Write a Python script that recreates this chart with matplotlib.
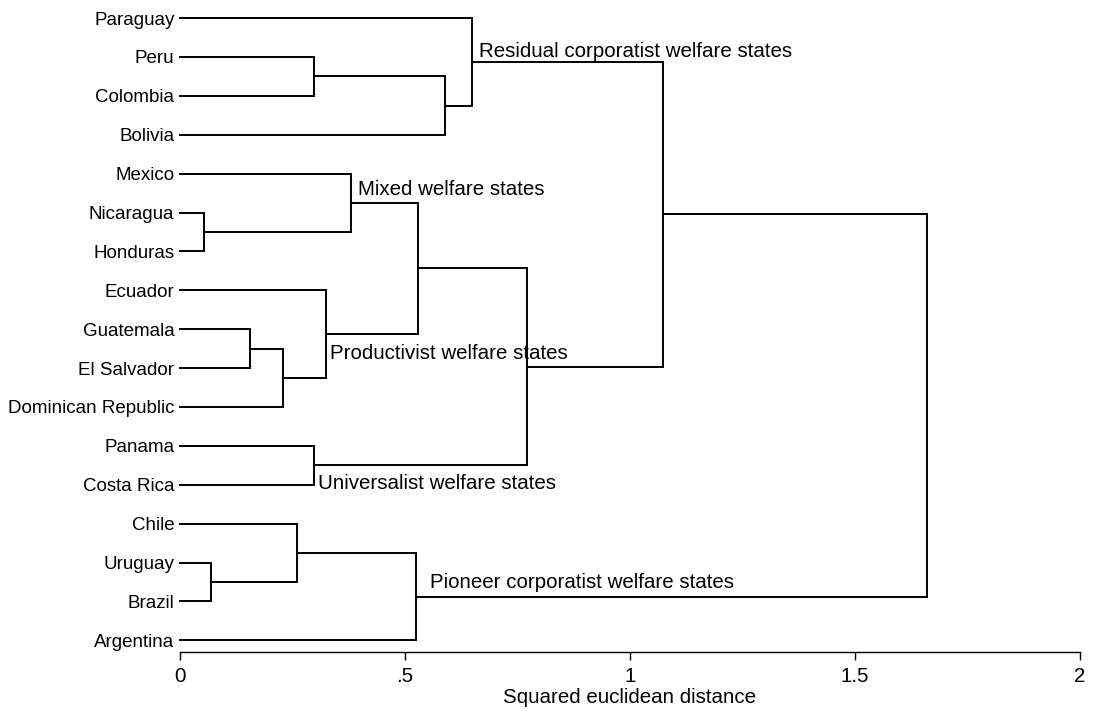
import matplotlib
matplotlib.use("Agg")
import matplotlib.pyplot as plt

# Countries in dendrogram order (top to bottom)
countries = ["Paraguay", "Peru", "Colombia", "Bolivia", "Mexico", "Nicaragua",
             "Honduras", "Ecuador", "Guatemala", "El Salvador", "Dominican Republic",
             "Panama", "Costa Rica", "Chile", "Uruguay", "Brazil", "Argentina"]

# Agglomeration steps: node ids 0-16 are countries, each merge creates id 17, 18, ...
merge_left = [1, 17, 0, 5, 4, 8, 22, 7, 21, 11, 25, 19, 14, 13, 30, 28]
merge_right = [2, 3, 18, 6, 20, 9, 10, 23, 24, 12, 26, 27, 15, 29, 16, 31]
merge_height = [0.297, 0.590, 0.648, 0.054, 0.379, 0.155, 0.230, 0.325,
                0.530, 0.298, 0.771, 1.073, 0.068, 0.259, 0.525, 1.661]

# Cluster labels and the node they are attached to
group_names = ["Residual corporatist welfare states", "Mixed welfare states",
               "Productivist welfare states", "Universalist welfare states",
               "Pioneer corporatist welfare states"]
group_nodes = [19, 21, 24, 26, 31]
# label placement (pixel offsets from the node, above/below the joining line)
group_dx = [7, 7, 4, 4, 14]
group_dy = [5, 8, -25, -24, 9]

xticks = [0, 0.5, 1, 1.5, 2]
xtick_labels = ["0", ".5", "1", "1.5", "2"]

plt.rcParams["font.family"] = ["Liberation Sans", "DejaVu Sans"]

fig = plt.figure(figsize=(10.94, 7.11), dpi=100)
ax = fig.add_axes([0.1645, 0.0830, 0.8227, 0.9080])

n = len(countries)
ypos = {i: float(i) for i in range(n)}
height = {i: 0.0 for i in range(n)}

for k, (a, b, h) in enumerate(zip(merge_left, merge_right, merge_height)):
    node = n + k
    ya, yb = ypos[a], ypos[b]
    ax.plot([height[a], h, h, height[b]], [ya, ya, yb, yb],
            color="black", lw=1.4, solid_joinstyle="miter", clip_on=False)
    ypos[node] = (ya + yb) / 2
    height[node] = h

for name, node, dx, dy in zip(group_names, group_nodes, group_dx, group_dy):
    ax.annotate(name, xy=(height[node], ypos[node]), xytext=(dx, dy),
                textcoords="offset pixels", ha="left", va="baseline",
                fontsize=14.8, color="black")

ax.set_xlim(0, 2)
ax.set_ylim(16.30, -0.3)
ax.set_yticks(range(n))
ax.set_yticklabels(countries)
ax.tick_params(axis="y", length=0, pad=4, labelsize=13.5)
ax.set_xticks(xticks)
ax.set_xticklabels(xtick_labels)
ax.tick_params(axis="x", length=5.5, width=1, pad=5, labelsize=14.8)
ax.set_xlabel("Squared euclidean distance", fontsize=14.8, labelpad=2)

for side in ["top", "right", "left"]:
    ax.spines[side].set_visible(False)
ax.spines["bottom"].set_linewidth(1)

fig.savefig("out.png", dpi=100)
